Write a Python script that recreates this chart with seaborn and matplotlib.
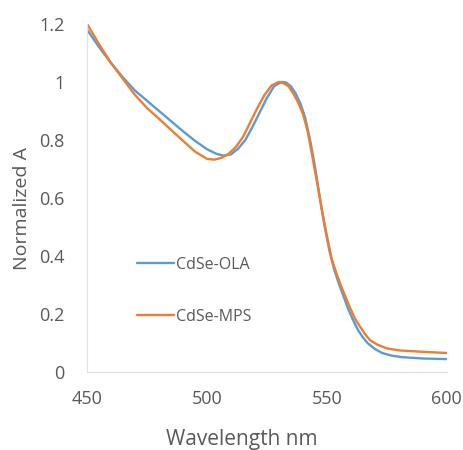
import pandas as pd
import matplotlib
matplotlib.use('Agg')
import matplotlib.pyplot as plt
import seaborn as sns

# Absorbance spectra
ola_nm = [450, 455, 460, 465, 470, 475, 480, 485, 490, 495, 500, 504, 507, 510, 513, 516,
          519, 522, 525, 528, 531, 533, 535, 537, 539, 541, 543, 545, 547, 549, 551, 553,
          555, 557, 559, 561, 563, 565, 567, 570, 573, 577, 581, 590, 600]
ola_abs = [1.18, 1.12, 1.065, 1.015, 0.97, 0.935, 0.90, 0.865, 0.83, 0.797, 0.768, 0.752,
           0.746, 0.75, 0.77, 0.80, 0.845, 0.895, 0.945, 0.985, 1.0, 0.998, 0.985, 0.96,
           0.925, 0.875, 0.80, 0.71, 0.605, 0.505, 0.42, 0.355, 0.305, 0.26, 0.215, 0.178,
           0.145, 0.12, 0.10, 0.08, 0.066, 0.057, 0.052, 0.047, 0.045]

mps_nm = [450, 455, 460, 465, 470, 475, 480, 485, 490, 495, 500, 503, 506, 509, 512, 515,
          518, 521, 524, 527, 530, 532, 534, 536, 538, 540, 542, 544, 546, 548, 550, 552,
          554, 556, 558, 560, 562, 564, 566, 568, 571, 575, 580, 590, 600]
mps_abs = [1.20, 1.13, 1.065, 1.01, 0.955, 0.91, 0.873, 0.835, 0.797, 0.76, 0.735, 0.732,
           0.738, 0.752, 0.775, 0.81, 0.86, 0.91, 0.955, 0.988, 1.0, 0.995, 0.985, 0.96,
           0.93, 0.89, 0.83, 0.74, 0.65, 0.555, 0.47, 0.39, 0.34, 0.295, 0.255, 0.215,
           0.18, 0.155, 0.13, 0.11, 0.095, 0.082, 0.075, 0.07, 0.066]

x_ticks = [450, 500, 550, 600]
y_ticks = [0, 0.2, 0.4, 0.6, 0.8, 1.0, 1.2]
y_labels = ['0', '0.2', '0.4', '0.6', '0.8', '1', '1.2']

df = pd.concat([
    pd.DataFrame({'Wavelength': ola_nm, 'A': ola_abs, 'Sample': 'CdSe-OLA'}),
    pd.DataFrame({'Wavelength': mps_nm, 'A': mps_abs, 'Sample': 'CdSe-MPS'}),
], ignore_index=True)

sns.set_style('white')
plt.rcParams['font.family'] = ['Open Sans', 'DejaVu Sans']
text_color = '#595959'

fig = plt.figure(figsize=(4.63, 4.5), dpi=100)
ax = fig.add_axes([0.188, 0.173, 0.777, 0.774])

sns.lineplot(data=df, x='Wavelength', y='A', hue='Sample',
             palette={'CdSe-OLA': '#5B9BD5', 'CdSe-MPS': '#ED7D31'},
             linewidth=1.7, ax=ax, legend=True)

ax.set_xlim(450, 600)
ax.set_ylim(0, 1.2)
ax.set_xticks(x_ticks)
ax.set_yticks(y_ticks)
ax.set_yticklabels(y_labels)
ax.tick_params(length=0, labelsize=13, colors=text_color)
ax.tick_params(axis='y', pad=16)
ax.tick_params(axis='x', pad=13)

ax.set_xlabel('Wavelength nm', fontsize=15, color=text_color)
ax.set_ylabel('Normalized A', fontsize=14, color=text_color)
ax.xaxis.set_label_coords(0.43, -0.162)
ax.yaxis.set_label_coords(-0.155, 0.47)

for side in ['top', 'right']:
    ax.spines[side].set_visible(False)
ax.spines['left'].set_color('#EADFDC')
ax.spines['bottom'].set_color('#E0DCDA')

leg = ax.legend(frameon=False, loc='lower left', bbox_to_anchor=(0.1, 0.095),
                fontsize=11.5, labelspacing=2.25, handlelength=2.3, handletextpad=0.1)
for t in leg.get_texts():
    t.set_color(text_color)

fig.savefig('out.png', dpi=100)
